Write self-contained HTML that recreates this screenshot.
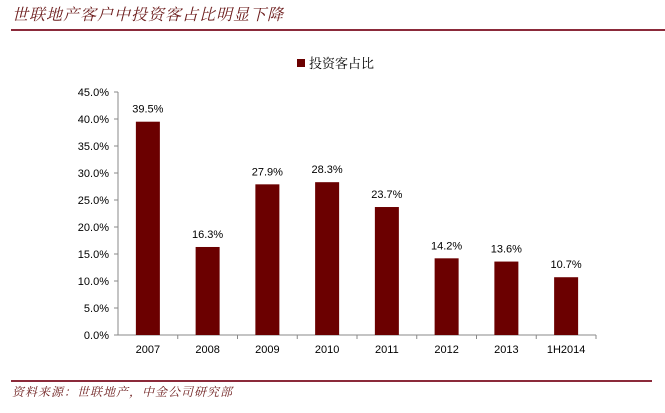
<!DOCTYPE html>
<html><head><meta charset="utf-8"><style>
body{margin:0;background:#fff;width:665px;height:408px;overflow:hidden;font-family:"Liberation Sans","Noto Sans CJK SC",sans-serif}
</style></head><body>
<svg width="665" height="408" xmlns="http://www.w3.org/2000/svg">
<text x="12" y="20" font-size="16" font-style="italic" fill="#6b1a1a" letter-spacing="1" font-family="'Noto Serif CJK SC','Noto Sans CJK SC',serif">世联地产客户中投资客占比明显下降</text>
<line x1="11" y1="30" x2="665" y2="30" stroke="#8b2a3a" stroke-width="2"/>
<rect x="297" y="59" width="8" height="8" fill="#6b0000"/>
<text x="309" y="68" font-size="13" fill="#000" font-family="'Noto Serif CJK SC',serif">投资客占比</text>
<g id="plot"></g>
<line x1="11" y1="381" x2="652" y2="381" stroke="#8b2a3a" stroke-width="2"/>
<text x="12" y="396" font-size="12" font-style="italic" fill="#6b1a1a" letter-spacing="1" font-family="'Noto Serif CJK SC',serif">资料来源：世联地产，中金公司研究部</text>
</svg>
<script>
const categories=["2007","2008","2009","2010","2011","2012","2013","1H2014"];
const values=[39.5,16.3,27.9,28.3,23.7,14.2,13.6,10.7];
const yTicks=[0,5,10,15,20,25,30,35,40,45];
const X0=118,X1=596,Y0=335,Y45=92;
const bw=(X1-X0)/categories.length;
const y=v=>Y0-(v/45)*(Y0-Y45);
const xc=i=>X0+bw*(i+0.5);
const g=document.getElementById('plot');
const NS="http://www.w3.org/2000/svg";
function mk(t,a){const e=document.createElementNS(NS,t);for(const k in a)e.setAttribute(k,a[k]);g.appendChild(e);return e;}
let ax=mk('line',{x1:X0,y1:Y45,x2:X0,y2:Y0,stroke:'#888'});


let bx=mk('line',{x1:X0,y1:Y0,x2:X1,y2:Y0,stroke:'#888'});


yTicks.forEach(t=>{
 const tk=mk('line',{x1:X0-4,y1:y(t),x2:X0,y2:y(t),stroke:'#888'});
 
 
 const l=mk('text',{x:X0-9,y:y(t)+4,'font-size':11,'text-anchor':'end',fill:'#000'});
 l.textContent=t.toFixed(1)+'%';
 
 
});
categories.forEach((c,i)=>{
 const tk=mk('line',{x1:X0+bw*(i+1),y1:Y0,x2:X0+bw*(i+1),y2:Y0+4,stroke:'#888'});
 
 
 const r=mk('rect',{x:xc(i)-12,y:y(values[i]),width:24,height:Y0-y(values[i]),fill:'#6b0000'});
 
 
 const v=mk('text',{x:xc(i),y:y(values[i])-9,'font-size':11,'text-anchor':'middle',fill:'#000'});
 v.textContent=values[i].toFixed(1)+'%';
 
 
 const l=mk('text',{x:xc(i),y:Y0+18,'font-size':11,'text-anchor':'middle',fill:'#000'});
 l.textContent=c;
 
 
});
</script>
</body></html>
